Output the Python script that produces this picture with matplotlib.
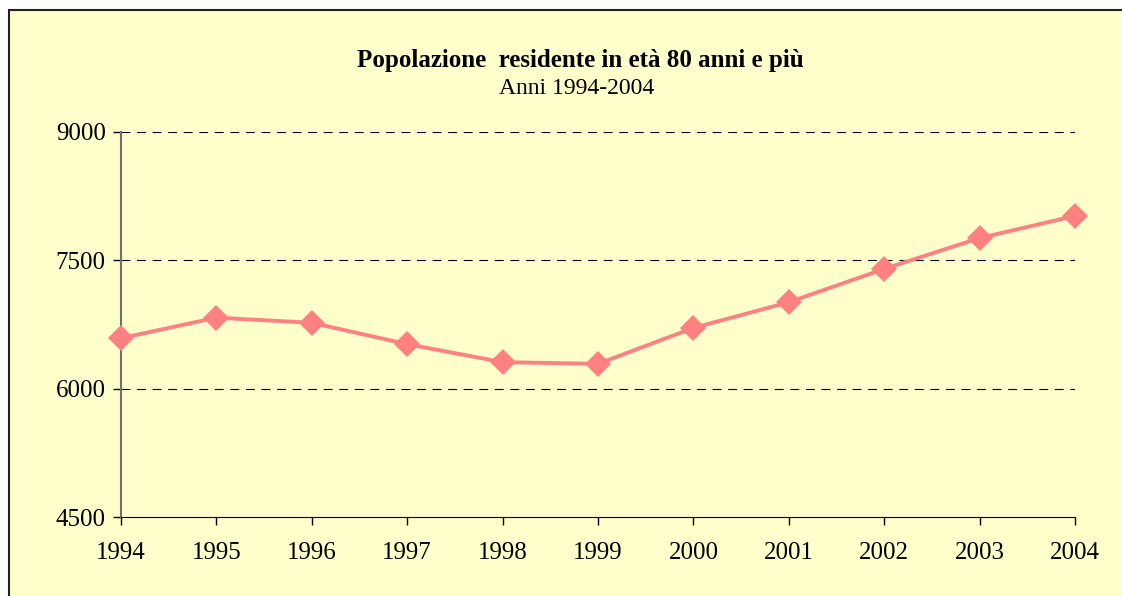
import matplotlib.pyplot as plt
from matplotlib.patches import Rectangle

# dati
anni = [1994, 1995, 1996, 1997, 1998, 1999, 2000, 2001, 2002, 2003, 2004]
popolazione = [6590, 6830, 6770, 6520, 6310, 6290, 6710, 7010, 7400, 7760, 8020]
y_ticks = [4500, 6000, 7500, 9000]

titolo = "Popolazione  residente in età 80 anni e più"
sottotitolo = "Anni 1994-2004"

plt.rcParams['font.family'] = ['Liberation Serif', 'DejaVu Serif']

fig = plt.figure(figsize=(11.22, 5.96), dpi=100)
fig.patch.set_facecolor('white')

# riquadro giallo dello sfondo
bg = Rectangle((9 / 1122, -0.05), 1.2, 1 - 10 / 596 + 0.05, transform=fig.transFigure,
               facecolor='#FFFFCC', edgecolor='#222222', linewidth=1.5, zorder=-10)
fig.patches.append(bg)

ax = fig.add_axes([121 / 1122, 1 - 517 / 596, 954 / 1122, 385 / 596])
ax.set_facecolor('none')

ax.plot(anni, popolazione, color='#FF8080', linewidth=2.8, marker='D',
        markersize=13, markeredgewidth=0, clip_on=False, zorder=3)

ax.set_xlim(1994, 2004)
ax.set_ylim(4500, 9000)
ax.set_xticks(anni)
ax.set_yticks(y_ticks)
ax.tick_params(axis='both', labelsize=18, length=6, width=1, direction='out')
ax.tick_params(axis='x', pad=12)
ax.tick_params(axis='y', pad=5)

for v in y_ticks[1:]:
    ax.axhline(v, color='black', linewidth=0.8, linestyle=(0, (8, 6)), zorder=1)

ax.spines['top'].set_visible(False)
ax.spines['right'].set_visible(False)
ax.spines['left'].set_color('#707070')
ax.spines['left'].set_linewidth(1.5)
ax.spines['bottom'].set_color('black')

fig.text(580 / 1122, 1 - 60 / 596, titolo, ha='center', va='center',
         fontsize=18, fontweight='bold')
fig.text(577 / 1122, 1 - 88 / 596, sottotitolo, ha='center', va='center', fontsize=17)

fig.savefig('out.png', dpi=100)
